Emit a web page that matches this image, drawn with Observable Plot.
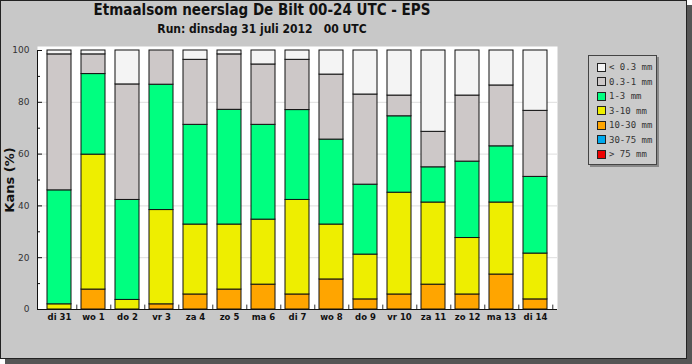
<!DOCTYPE html>
<html><head><meta charset="utf-8">
<script src="https://cdn.jsdelivr.net/npm/d3@7"></script>
<script src="https://cdn.jsdelivr.net/npm/@observablehq/plot@0.6"></script>
<style>
body{margin:0;background:#fff;font-family:"DejaVu Sans",sans-serif;}
#box{position:absolute;left:0;top:0;width:687px;height:359px;box-sizing:border-box;border:1px solid #222;background:#c8c8c8;box-shadow:5px 5px 0 #555;}
#title{position:absolute;left:0;width:524px;top:1px;text-align:center;font:bold 15px "DejaVu Sans Condensed","DejaVu Sans",sans-serif;color:#111;}
#sub{position:absolute;left:0;width:524px;top:22px;text-align:center;font:bold 12px "DejaVu Sans Condensed","DejaVu Sans",sans-serif;color:#111;white-space:pre;}
#chart{position:absolute;left:0;top:40px;}
#ytitle{position:absolute;left:9px;top:180px;transform:translate(-50%,-50%) rotate(-90deg);font:bold 13px "DejaVu Sans",sans-serif;color:#111;white-space:nowrap;}
#legend{position:absolute;left:588px;top:55px;width:69px;height:110px;box-sizing:border-box;border:1px solid #444;background:#cbcbcb;box-shadow:2px 2px 0 #888;}
.li{position:absolute;left:8px;height:10px;display:flex;align-items:center;font:9px "DejaVu Sans Mono",monospace;color:#333;white-space:pre;}
.sw{width:7px;height:7px;border:1px solid #222;margin-right:3px;}
</style></head><body>
<div id="box"></div>
<div id="title"></div>
<div id="sub"></div>
<div id="chart"></div>
<div id="ytitle">Kans (%)</div>
<div id="legend"></div>
<script>
const titleText = "Etmaalsom neerslag De Bilt 00-24 UTC - EPS";
const subText = "Run: dinsdag 31 juli 2012   00 UTC";
const days = ["di 31","wo 1","do 2","vr 3","za 4","zo 5","ma 6","di 7","wo 8","do 9","vr 10","za 11","zo 12","ma 13","di 14"];
const classes = ["< 0.3 mm","0.3-1 mm","1-3 mm","3-10 mm","10-30 mm","30-75 mm","> 75 mm"];
const colors = ["#f4f4f4","#cdc8c8","#00ff80","#eeee00","#ffa500","#00aaee","#ee0000"];
const pLt03   = [1.5,1.5,13.1,0,3.6,1.5,5.4,3.6,9.3,17,17.4,31.4,17.4,13.5,23.3];
const p03to1  = [52.5,7.6,44.6,13.2,25.1,21.4,23.3,19.4,25.1,34.8,8,13.7,25.5,23.5,25.5];
const p1to3   = [44,31.1,38.6,48.4,38.5,44.3,36.6,34.7,32.8,27,29.5,13.6,29.5,21.7,29.6];
const p3to10  = [2,52.1,3.7,36.4,27,25.1,25.1,36.5,21.2,17.3,39.3,31.7,21.8,27.8,17.7];
const p10to30 = [0,7.7,0,2,5.8,7.7,9.6,5.8,11.6,3.9,5.8,9.6,5.8,13.5,3.9];
const p30to75 = [0,0,0,0,0,0,0,0,0,0,0,0,0,0,0];
const pGt75   = [0,0,0,0,0,0,0,0,0,0,0,0,0,0,0];
const yMajor = [0,20,40,60,80,100];
const yMinor = [10,30,50,70,90];
const yGrid = [20,40,60,80];

document.getElementById("title").textContent = titleText;
document.getElementById("sub").textContent = subText;

const series = [pLt03,p03to1,p1to3,p3to10,p10to30,p30to75,pGt75];
const rows = [];
for (let c = classes.length - 1; c >= 0; c--) {
  days.forEach((d, i) => { if (series[c][i] > 0) rows.push({day: d, cls: classes[c], value: series[c][i]}); });
}

const W = 560, H = 300, mL = 37, mR = 3, mT = 10, mB = 31;
const pIn = 0.285, pOut = 0.16;
const step = (W - mL - mR) / (days.length - pIn + 2 * pOut);
const inner = W - mL - mR;

const chart = Plot.plot({
  width: W, height: H, marginLeft: mL, marginRight: mR, marginTop: mT, marginBottom: mB,
  style: {background: "transparent", fontFamily: "DejaVu Sans, sans-serif", color: "#222"},
  x: {domain: days, paddingInner: pIn, paddingOuter: pOut, label: null, axis: null},
  y: {domain: [0, 100], label: null, axis: null},
  color: {domain: classes, range: colors},
  marks: [
    Plot.frame({fill: "white", stroke: null, insetTop: -4}),
    Plot.ruleY(yGrid, {stroke: "#dedede"}),
    Plot.barY(rows, {x: "day", y: "value", fill: "cls", stroke: "#111", strokeWidth: 1, order: null}),
    Plot.ruleY([0], {stroke: "#111"}),
    Plot.frame({anchor: "left", stroke: "#111"}),
    Plot.tickY(yMajor, {y: d => d, insetRight: inner - 5, stroke: "#111"}),
    Plot.tickY(yMinor, {y: d => d, insetRight: inner - 3, stroke: "#111"}),
    Plot.ruleX(days, {x: d => d, y1: 0, y2: 1.7, dx: step / 2, stroke: "#333"}),
    Plot.axisY(yMajor, {tickSize: 0, tickPadding: 8, fontSize: 9, fill: "#333", label: null}),
    Plot.axisX({tickSize: 0, tickPadding: 4, fontSize: 8.5, fontWeight: "bold", fill: "#111", label: null})
  ]
});
document.getElementById("chart").appendChild(chart);

const lg = document.getElementById("legend");
classes.forEach((c, i) => {
  const el = document.createElement("div");
  el.className = "li";
  el.style.top = (6 + i * 14.55) + "px";
  const sw = document.createElement("div");
  sw.className = "sw";
  sw.style.background = colors[i];
  el.appendChild(sw);
  const t = document.createElement("span");
  t.textContent = c;
  el.appendChild(t);
  lg.appendChild(el);
});
</script>
</body></html>
